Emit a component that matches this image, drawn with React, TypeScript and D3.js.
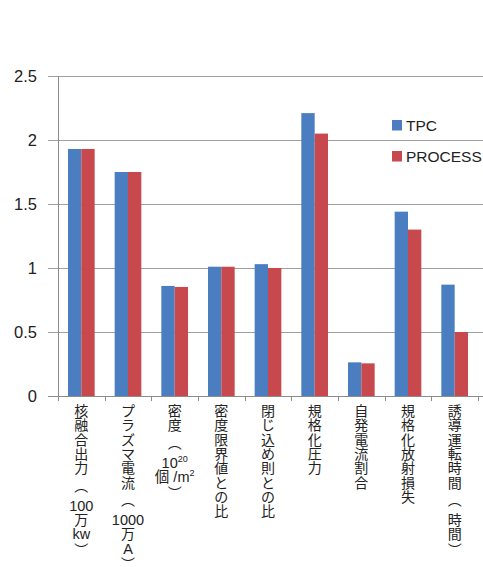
import React from "react";
import * as d3 from "d3";

const categories = [
  "核融合出力（100万kw）",
  "プラズマ電流（1000万A）",
  "密度（10^20個/m^2）",
  "密度限界値との比",
  "閉じ込め則との比",
  "規格化圧力",
  "自発電流割合",
  "規格化放射損失",
  "誘導運転時間（時間）",
];

const labelTokens = [
  ["核", "融", "合", "出", "力", "（", "100", "万", "kw", "）"],
  ["プ", "ラ", "ズ", "マ", "電", "流", "（", "1000", "万", "A", "）"],
  ["密", "度", "（", "10^20", "個 /m^2", "）"],
  ["密", "度", "限", "界", "値", "と", "の", "比"],
  ["閉", "じ", "込", "め", "則", "と", "の", "比"],
  ["規", "格", "化", "圧", "力"],
  ["自", "発", "電", "流", "割", "合"],
  ["規", "格", "化", "放", "射", "損", "失"],
  ["誘", "導", "運", "転", "時", "間", "（", "時", "間", "）"],
];

const series = ["TPC", "PROCESS"];
const tpcValues = [1.93, 1.75, 0.86, 1.01, 1.03, 2.21, 0.263, 1.44, 0.87];
const processValues = [1.93, 1.75, 0.852, 1.01, 1.0, 2.05, 0.255, 1.3, 0.5];
const yTicks = [0, 0.5, 1, 1.5, 2, 2.5];

const colors: Record<string, string> = { TPC: "#4a7ec0", PROCESS: "#c8494d" };
const LATIN = "'Liberation Sans', Arial, Helvetica, sans-serif";
const CJK = "'Noto Sans CJK JP', 'Noto Sans', sans-serif";

function tokenContent(tok: string) {
  if (tok === "（") return "︵";
  if (tok === "）") return "︶";
  if (tok.includes("^")) {
    const [base, sup] = tok.split("^");
    return (
      <>
        {base}
        <tspan fontSize={9} dy={-6}>{sup}</tspan>
      </>
    );
  }
  return tok;
}

export default function App() {
  const W = 483;
  const H = 567;
  const left = 58;
  const right = 478;
  const top = 76;
  const bottom = 396;

  const x0 = d3.scaleBand<string>().domain(categories).range([left, right]);
  const x1 = d3
    .scaleBand<string>()
    .domain(series)
    .range([0, x0.bandwidth()])
    .paddingOuter(0.75);
  const y = d3.scaleLinear().domain([0, 2.5]).range([bottom, top]);

  const valuesBySeries: Record<string, number[]> = {
    TPC: tpcValues,
    PROCESS: processValues,
  };

  const tickXs = categories.map((c) => x0(c) as number).concat([right]);

  return (
    <svg
      width={W}
      height={H}
      style={{ position: "absolute", left: 0, top: 0, background: "#fff" }}
    >
      {yTicks.map((t) => (
        <line
          key={"g" + t}
          x1={48}
          x2={W}
          y1={Math.round(y(t)) + 0.5}
          y2={Math.round(y(t)) + 0.5}
          stroke={t === 0 ? "#8c8c8c" : "#a0a0a0"}
          strokeWidth={1}
        />
      ))}
      {yTicks.map((t) => (
        <text
          key={"yl" + t}
          x={37}
          y={y(t)}
          dy="0.36em"
          textAnchor="end"
          fontFamily={LATIN}
          fontSize={16.5}
          fill="#222"
        >
          {String(t)}
        </text>
      ))}
      {categories.map((c, i) =>
        series.map((s) => {
          const v = valuesBySeries[s][i];
          const bx = (x0(c) as number) + (x1(s) as number);
          return (
            <rect
              key={c + s}
              x={bx}
              y={y(v)}
              width={x1.bandwidth()}
              height={bottom - y(v)}
              fill={colors[s]}
            />
          );
        })
      )}
      <line x1={left + 0.5} x2={left + 0.5} y1={top} y2={bottom + 5} stroke="#8c8c8c" />
      {tickXs.map((tx, i) => (
        <line
          key={"xt" + i}
          x1={Math.round(tx) + 0.5}
          x2={Math.round(tx) + 0.5}
          y1={bottom}
          y2={bottom + 5}
          stroke="#8c8c8c"
        />
      ))}
      {categories.map((c, i) => {
        const cx = (x0(c) as number) + x0.bandwidth() / 2;
        let yy = 411;
        return (
          <text
            key={"xl" + c}
            textAnchor="middle"
            fill="#222"
            fontFamily={CJK}
            fontSize={14}
          >
            {labelTokens[i].map((tok, j) => {
              if (j > 0) yy += 14.3;
              if (tok === "（") yy += 9;
              const isCjk =
                /[\u3040-\u30ff\u4e00-\u9fff（）]/.test(tok) && tok.length === 1;
              const shift = tok === "（" ? -6 : tok === "）" ? 1 : 0;
              return (
                <tspan
                  key={j}
                  x={cx}
                  y={yy + 5 + shift}
                  fontFamily={isCjk ? CJK : `${LATIN}, ${CJK}`}
                  fontSize={isCjk ? 14 : 14.5}
                >
                  {tokenContent(tok)}
                </tspan>
              );
            })}
          </text>
        );
      })}
      {series.map((s, i) => (
        <g key={"lg" + s} transform={`translate(392, ${120 + i * 31})`}>
          <rect x={0} y={0} width={10} height={10.5} fill={colors[s]} />
          <text x={14} y={11} fontFamily={LATIN} fontSize={15.5} fill="#222">
            {s}
          </text>
        </g>
      ))}
    </svg>
  );
}
